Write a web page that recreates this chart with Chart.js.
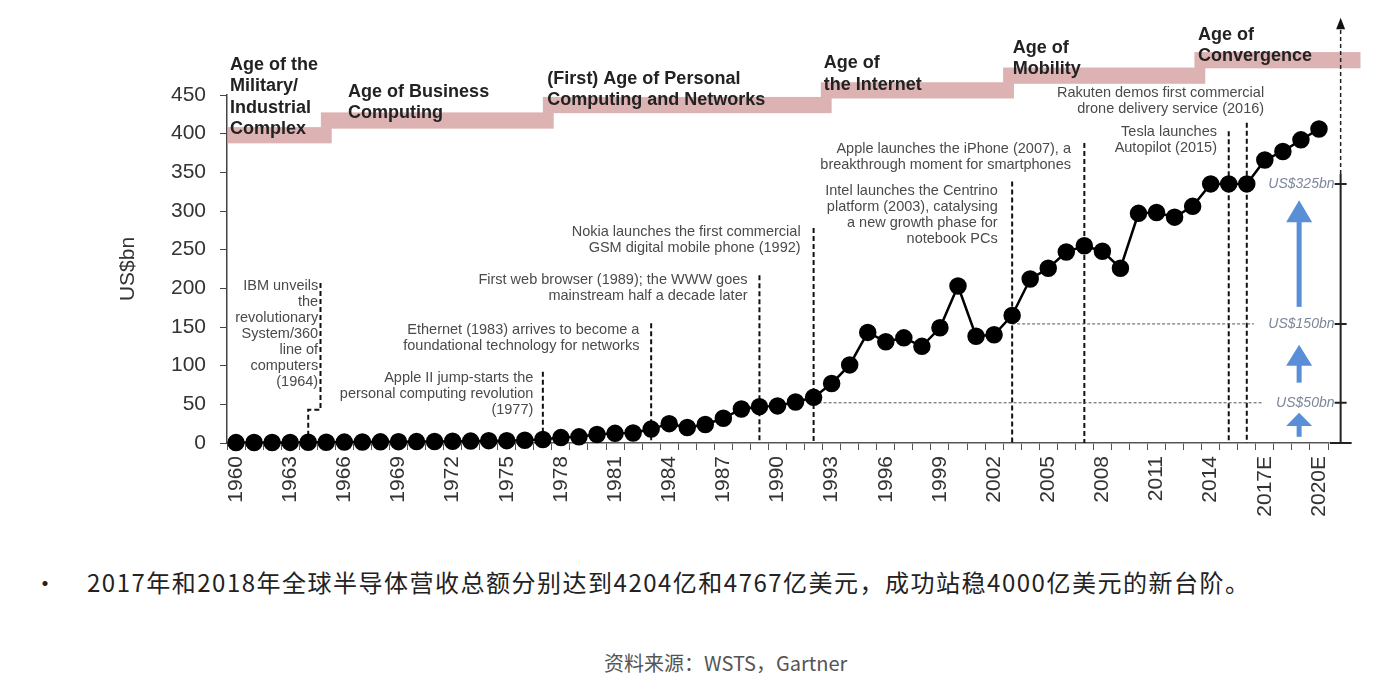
<!DOCTYPE html>
<html>
<head>
<meta charset="utf-8">
<script src="https://cdn.jsdelivr.net/npm/chart.js@4.4.1/dist/chart.umd.min.js"></script>
<style>
  html, body { margin: 0; padding: 0; background: #fff; }
  #wrap { position: absolute; left: 0; top: 0; width: 1392px; height: 560px; }
  .note { position: absolute; font-family: "Noto Sans CJK SC", sans-serif; color: #222; white-space: nowrap; line-height: 1; }
</style>
</head>
<body>
<div id="wrap"><canvas id="chart"></canvas></div>
<div class="note" style="left:33px; top:570px; font-size:24px;">•</div>
<div class="note" style="left:87px; top:570px; font-size:24px; letter-spacing:1.5px;">2017年和2018年全球半导体营收总额分别达到4204亿和4767亿美元，成功站稳4000亿美元的新台阶。</div>
<div class="note" style="left:604px; top:653px; font-size:20px; color:#555;">资料来源：WSTS，Gartner</div>
<script>
// global semiconductor revenue, US$bn
const years = [];
for (let y = 1960; y <= 2016; y++) years.push(String(y));
years.push('2017E', '2018E', '2019E', '2020E');

const revenue = [
  0.5, 0.6, 0.7, 0.8, 0.9, 1.0, 1.2, 1.3, 1.5, 1.7,
  1.8, 1.9, 2.2, 2.5, 3, 3, 3.5, 4.5, 7, 8,
  11, 12.5, 13, 18, 25, 20, 24, 32, 44, 47,
  48, 53, 59, 77, 101, 143, 131, 136, 125, 149,
  203, 138, 140, 165, 212, 226, 247, 255, 248, 226,
  297, 298, 292, 306, 335, 335, 335, 366, 377, 392,
  406
];

const yTicks = [0, 50, 100, 150, 200, 250, 300, 350, 400, 450];

// milestones
const eventYears = ['1964', '1977', '1983', '1989', '1992', '2003', '2007', '2015', '2016'];
const eventTops = [207, 92, 155, 217, 278, 338, 388, 403, 414];
const eventTexts = [
  ['IBM unveils', 'the', 'revolutionary', 'System/360', 'line of', 'computers', '(1964)'],
  ['Apple II jump-starts the', 'personal computing revolution', '(1977)'],
  ['Ethernet (1983) arrives to become a', 'foundational technology for networks'],
  ['First web browser (1989); the WWW goes', 'mainstream half a decade later'],
  ['Nokia launches the first commercial', 'GSM digital mobile phone (1992)'],
  ['Intel launches the Centrino', 'platform (2003), catalysing', 'a new growth phase for', 'notebook PCs'],
  ['Apple launches the iPhone (2007), a', 'breakthrough moment for smartphones'],
  ['Tesla launches', 'Autopilot (2015)'],
  ['Rakuten demos first commercial', 'drone delivery service (2016)']
];

// ages of computing
const ageNames = [
  ['Age of the', 'Military/', 'Industrial', 'Complex'],
  ['Age of Business', 'Computing'],
  ['(First) Age of Personal', 'Computing and Networks'],
  ['Age of', 'the Internet'],
  ['Age of', 'Mobility'],
  ['Age of', 'Convergence']
];
const ageLevels = [398, 417, 437, 456, 475, 495];

// revenue thresholds
const refLevels = [52, 154, 335];
const refLabels = ['US$50bn', 'US$150bn', 'US$325bn'];
const refFrom = ['1992', '2003', null];
const arrowSpans = [[8, 39], [78, 127], [176, 314]];

// layout of the overlay (category index / value units)
const ageBreaks = [5.0, 17.3, 32.7, 42.8, 53.4];
const ageTextAt = [[-0.33, 489], [6.21, 454], [17.25, 471], [32.56, 491], [43.04, 511], [53.3, 528]];
const eventTextAt = [[4.55, 203], [16.47, 84], [22.35, 146], [28.34, 211], [31.28, 273],
  [42.2, 326], [46.26, 380], [54.35, 402], [56.96, 453]];

const SANS = '"Liberation Sans", Arial, sans-serif';

const overlay = {
  id: 'overlay',
  beforeDatasetsDraw(chart) {
    const { ctx, scales: { x, y } } = chart;
    const X = i => x.getPixelForValue(i);
    const Y = v => y.getPixelForValue(v);
    ctx.save();

    // staircase bands
    ctx.fillStyle = '#ddb2b2';
    ageLevels.forEach((lv, i) => {
      const x0 = X(i === 0 ? -0.45 : ageBreaks[i - 1] - 0.3);
      const x1 = X(i === ageLevels.length - 1 ? 62.3 : ageBreaks[i] + 0.3);
      ctx.fillRect(x0, Y(lv + 10.5), x1 - x0, Y(lv - 10.5) - Y(lv + 10.5));
    });

    ctx.fillStyle = '#222';
    ctx.font = 'bold 18px ' + SANS;
    ctx.textAlign = 'left';
    ctx.textBaseline = 'middle';
    ageNames.forEach((lines, i) => {
      const [ix, v] = ageTextAt[i];
      lines.forEach((t, k) => ctx.fillText(t, X(ix), Y(v) + k * 21.5));
    });

    // milestone dashed lines
    ctx.strokeStyle = '#111';
    ctx.lineWidth = 2;
    ctx.setLineDash([5, 3]);
    eventYears.forEach((yr, i) => {
      const idx = years.indexOf(yr);
      ctx.beginPath();
      if (i === 0) {
        ctx.moveTo(X(idx + 0.68), Y(eventTops[i]));
        ctx.lineTo(X(idx + 0.68), Y(43));
        ctx.lineTo(X(idx), Y(43));
        ctx.lineTo(X(idx), Y(0));
      } else {
        ctx.moveTo(X(idx), Y(eventTops[i]));
        ctx.lineTo(X(idx), Y(0));
      }
      ctx.stroke();
    });

    ctx.fillStyle = '#4a4a4a';
    ctx.font = '14.5px ' + SANS;
    ctx.textAlign = 'right';
    eventTexts.forEach((lines, i) => {
      const [ix, v] = eventTextAt[i];
      lines.forEach((t, k) => ctx.fillText(t, X(ix), Y(v) + k * 16));
    });

    // thin threshold lines
    ctx.strokeStyle = '#555';
    ctx.lineWidth = 1;
    ctx.setLineDash([3, 2]);
    refLevels.forEach((lv, i) => {
      if (!refFrom[i]) return;
      ctx.beginPath();
      ctx.moveTo(X(years.indexOf(refFrom[i])), Y(lv));
      ctx.lineTo(X(i === 0 ? 56.9 : 56.4), Y(lv));
      ctx.stroke();
    });

    // bracket on the right
    const bx = X(61.2);
    ctx.strokeStyle = '#222';
    ctx.lineWidth = 2;
    ctx.setLineDash([]);
    ctx.beginPath();
    ctx.moveTo(bx, Y(0));
    ctx.lineTo(bx, Y(348));
    ctx.moveTo(bx - 11, Y(0));
    ctx.lineTo(bx + 11, Y(0));
    refLevels.forEach(lv => { ctx.moveTo(bx - 6, Y(lv)); ctx.lineTo(bx + 6, Y(lv)); });
    ctx.stroke();
    ctx.lineWidth = 1.5;
    ctx.setLineDash([4, 3]);
    ctx.beginPath();
    ctx.moveTo(bx, Y(348));
    ctx.lineTo(bx, Y(535));
    ctx.stroke();
    ctx.setLineDash([]);
    ctx.fillStyle = '#111';
    ctx.beginPath();
    ctx.moveTo(bx, Y(550));
    ctx.lineTo(bx - 4.5, Y(535));
    ctx.lineTo(bx + 4.5, Y(535));
    ctx.closePath();
    ctx.fill();

    ctx.fillStyle = '#7d879c';
    ctx.font = 'italic 14px ' + SANS;
    ctx.textAlign = 'right';
    refLabels.forEach((t, i) => ctx.fillText(t, X(60.86), Y(refLevels[i])));

    // blue growth arrows
    const ax = X(58.9);
    ctx.fillStyle = '#5a8fd8';
    ctx.strokeStyle = '#5a8fd8';
    arrowSpans.forEach(([lo, hi]) => {
      const tip = Y(hi);
      const head = Math.min(22, (Y(lo) - tip) * 0.55);
      ctx.lineWidth = 5;
      ctx.beginPath();
      ctx.moveTo(ax, Y(lo));
      ctx.lineTo(ax, tip + head - 2);
      ctx.stroke();
      ctx.beginPath();
      ctx.moveTo(ax, tip);
      ctx.lineTo(ax - 13, tip + head);
      ctx.lineTo(ax + 13, tip + head);
      ctx.closePath();
      ctx.fill();
    });

    ctx.restore();
  }
};

new Chart(document.getElementById('chart'), {
  type: 'line',
  data: {
    labels: years,
    datasets: [{
      data: revenue,
      borderColor: '#000',
      borderWidth: 2.5,
      pointBackgroundColor: '#000',
      pointBorderColor: '#000',
      pointRadius: 7.5,
      pointHoverRadius: 7.5,
      tension: 0,
      clip: false
    }]
  },
  options: {
    responsive: true,
    maintainAspectRatio: false,
    animation: false,
    layout: { padding: { left: 112, top: 95, right: 64, bottom: 0 } },
    plugins: { legend: { display: false }, tooltip: { enabled: false } },
    scales: {
      x: {
        type: 'category',
        offset: true,
        afterFit: s => { s.height = 117; },
        border: { color: '#555', width: 1.5 },
        grid: { offset: true, drawOnChartArea: false, drawTicks: true, tickLength: 7, color: '#555' },
        ticks: {
          autoSkip: false,
          minRotation: 90,
          maxRotation: 90,
          padding: 6,
          color: '#333',
          font: { family: SANS, size: 21 },
          callback: function (val, i) { return i % 3 === 0 ? this.getLabelForValue(val) : ''; }
        }
      },
      y: {
        min: 0,
        max: 450,
        afterFit: s => { s.width = 115; },
        afterBuildTicks: s => { s.ticks = yTicks.map(v => ({ value: v })); },
        border: { color: '#444', width: 1.5 },
        grid: { drawOnChartArea: false, drawTicks: true, tickLength: 7, color: '#444' },
        ticks: { color: '#333', padding: 14, font: { family: SANS, size: 21 } },
        title: { display: true, text: 'US$bn', color: '#333', font: { family: SANS, size: 21 } }
      }
    }
  },
  plugins: [overlay]
});
</script>
</body>
</html>
